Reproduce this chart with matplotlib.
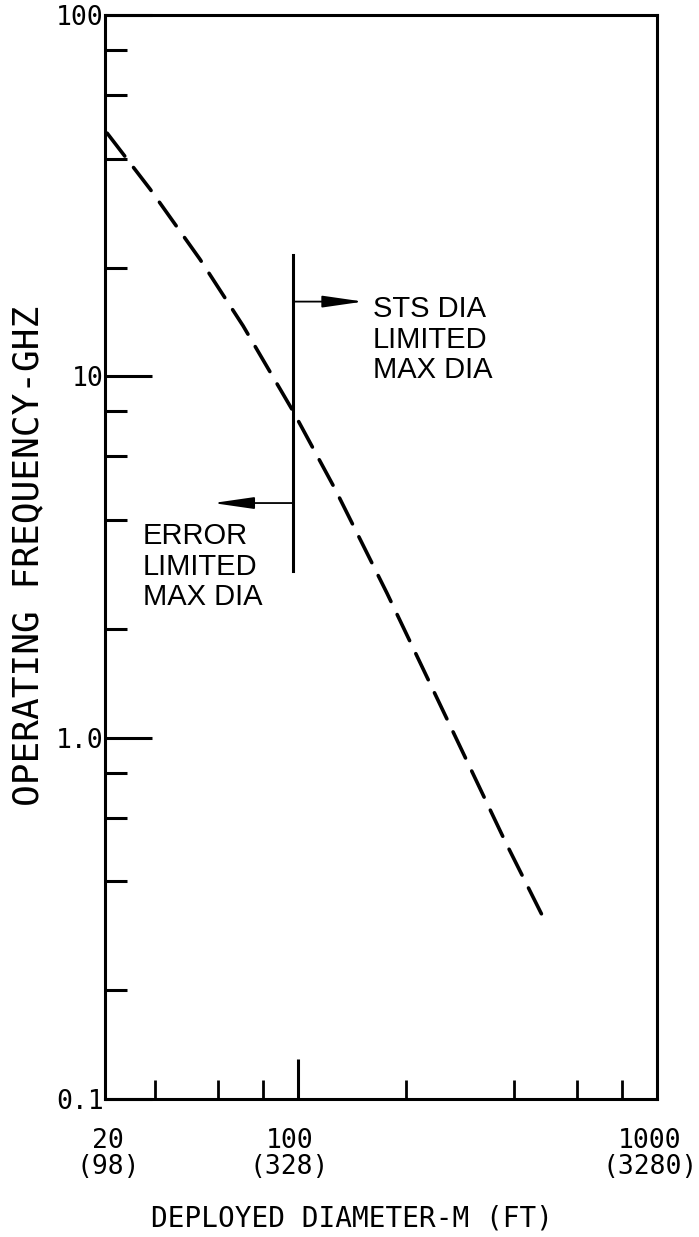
import matplotlib
matplotlib.use("Agg")
import matplotlib.pyplot as plt
from matplotlib.ticker import FixedLocator, NullFormatter

# Curve: deployed diameter (m) vs operating frequency (GHz)
diameter = [29.4, 38.7, 53.3, 70.3, 96.8, 126.8, 177.0, 268.5, 377.4, 490.7]
frequency = [47.1, 33.0, 21.1, 13.8, 8.02, 4.88, 2.51, 1.053, 0.517, 0.307]

# Left edge of the hand-drawn log axis (labelled "20" in the original)
X_LEFT = 29.0
X_RIGHT = 1000

x_minor = [40, 60, 80, 200, 400, 600, 800]
x_labels = ["20\n(98)", "100\n(328)", "1000\n(3280)"]
x_label_pos = [X_LEFT, 100, X_RIGHT]

y_major = [0.1, 1, 10, 100]
y_major_labels = ["0.1", "1.0", "10", "100"]
y_minor = [0.2, 0.4, 0.6, 0.8, 2, 4, 6, 8, 20, 40, 60, 80]

# STS limit line and its arrows
limit_x = 97
limit_y = [2.9, 21.7]
sts_arrow = (16.1, 152)      # (frequency, arrow tip diameter)
error_arrow = (4.46, 58.0)

notes = ["STS DIA\nLIMITED\nMAX DIA", "ERROR\nLIMITED\nMAX DIA"]
note_pos = [(161.8, 16.8), (37.0, 3.95)]

plt.rcParams['font.family'] = ['DejaVu Sans Mono']

fig = plt.figure(figsize=(6.99, 12.37), dpi=100)
ax = fig.add_axes([105 / 699, 1 - 1099 / 1237, 552 / 699, 1084 / 1237])
ax.set_xscale('log')
ax.set_yscale('log')
ax.set_xlim(X_LEFT, X_RIGHT)
ax.set_ylim(0.1, 100)

for s in ax.spines.values():
    s.set_linewidth(2.2)

# dashed curve
ax.plot(diameter, frequency, color='black', lw=2.6,
        linestyle=(0, (8, 4)), dash_capstyle='round')

# limit line + arrows
ax.plot([limit_x, limit_x], limit_y, color='black', lw=2.2)
for fy, tip in [sts_arrow, error_arrow]:
    ax.annotate('', xy=(tip, fy), xytext=(limit_x, fy),
                arrowprops=dict(arrowstyle='-|>,head_length=2.5,head_width=0.36',
                                mutation_scale=10, color='black', lw=1.3,
                                shrinkA=0, shrinkB=0))

for txt, (nx, ny) in zip(notes, note_pos):
    ax.text(nx, ny, txt, ha='left', va='top', fontsize=21,
            family=['Liberation Sans', 'DejaVu Sans'], linespacing=1.12)

# x ticks
ax.xaxis.set_major_locator(FixedLocator([100]))
ax.xaxis.set_minor_locator(FixedLocator(x_minor))
ax.xaxis.set_major_formatter(NullFormatter())
ax.xaxis.set_minor_formatter(NullFormatter())
ax.tick_params(axis='x', which='major', direction='in', length=29, width=2.2)
ax.tick_params(axis='x', which='minor', direction='in', length=14, width=2.0)

# y ticks
ax.yaxis.set_major_locator(FixedLocator(y_major))
ax.set_yticklabels(y_major_labels)
ax.yaxis.set_minor_locator(FixedLocator(y_minor))
ax.yaxis.set_minor_formatter(NullFormatter())
ax.tick_params(axis='y', which='major', direction='in', length=34, width=2.2,
               pad=1, labelsize=19)
ax.tick_params(axis='y', which='minor', direction='in', length=16, width=2.2)

# x tick labels (metres with feet below)
offsets = [2, -6, -5]
for lab, xv, dx in zip(x_labels, x_label_pos, offsets):
    ax.annotate(lab, xy=(xv, 0), xycoords=('data', 'axes fraction'),
                xytext=(dx, -21), textcoords='offset points',
                ha='center', va='top', fontsize=19, linespacing=1.0,
                annotation_clip=False)

fig.text(352 / 699, 1 - 1218 / 1237, "DEPLOYED DIAMETER-M (FT)",
         ha='center', va='center', fontsize=20)
fig.text(28 / 699, 1 - 556 / 1237, "OPERATING FREQUENCY-GHZ",
         ha='center', va='center', rotation=90, fontsize=26)

fig.savefig("out.png", dpi=100)
